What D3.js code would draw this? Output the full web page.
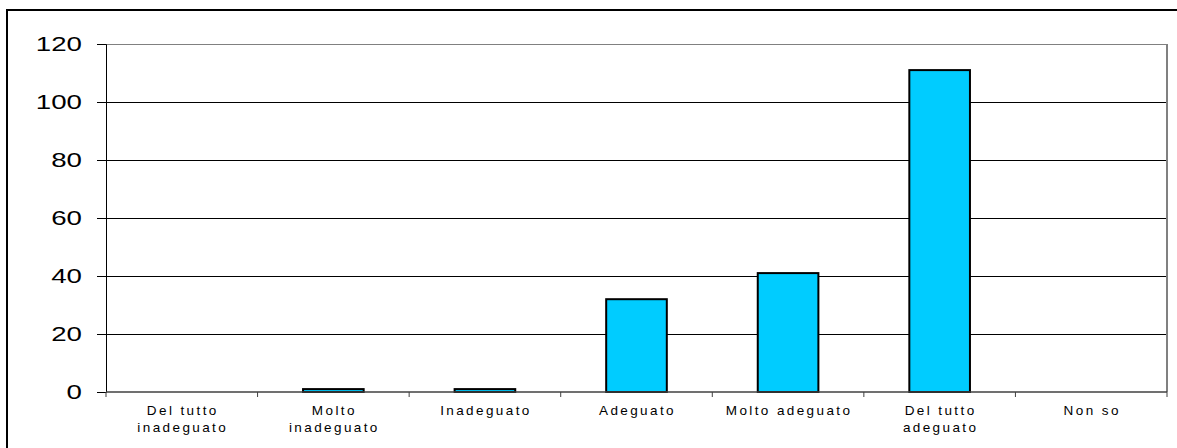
<!DOCTYPE html>
<html><head><meta charset="utf-8">
<script src="https://cdn.jsdelivr.net/npm/d3@7"></script>
<style>body{margin:0;background:#fff}svg{display:block}</style>
</head><body>
<svg id="c" width="1177" height="448"></svg>
<script>
const categories = [["Del tutto","inadeguato"],["Molto","inadeguato"],["Inadeguato"],["Adeguato"],["Molto adeguato"],["Del tutto","adeguato"],["Non so"]];
const values = [0, 1, 1, 32, 41, 111, 0];
const yTicks = [0, 20, 40, 60, 80, 100, 120];

const svg = d3.select("#c");
const L = 106, R = 1167, T = 44, B = 392;
svg.append("rect").attr("x", 7).attr("y", 10).attr("width", 1180).attr("height", 450)
  .attr("fill", "none").attr("stroke", "#000").attr("stroke-width", 2);

const keys = categories.map((c, i) => i);
const x = d3.scaleBand().domain(keys).range([L, R]).paddingInner(0).paddingOuter(0);
const y = d3.scaleLinear().domain([0, 120]).range([B, T]);

// gridlines
svg.append("g").selectAll("line").data(yTicks.filter(t => t > 0)).join("line")
  .attr("x1", L).attr("x2", R).attr("y1", d => y(d)).attr("y2", d => y(d))
  .attr("stroke", d => d === 120 ? "#808080" : "#000").attr("stroke-width", 1).attr("shape-rendering", "crispEdges");
// right border of plot
svg.append("line").attr("x1", R).attr("x2", R).attr("y1", T).attr("y2", B)
  .attr("stroke", "#808080").attr("stroke-width", 2);

// bars
const bw = x.bandwidth() / 2.5;
svg.append("g").selectAll("rect").data(values).join("rect")
  .attr("x", (d, i) => x(i) + (x.bandwidth() - bw) / 2)
  .attr("y", d => y(d)).attr("width", bw).attr("height", d => B - y(d))
  .attr("fill", "#00CCFF").attr("stroke", "#000").attr("stroke-width", 2)
  .attr("display", d => d > 0 ? null : "none");

// y axis
const ya = d3.axisLeft(y).tickValues(yTicks).tickSize(9).tickPadding(15).tickFormat(d3.format("d"));
const gy = svg.append("g").attr("transform", `translate(${L},0)`).call(ya);
gy.select(".domain").attr("stroke", "#000").attr("stroke-width", 1);
gy.selectAll(".tick line").attr("stroke", "#000");
gy.selectAll("text").attr("font-family", "Arial, 'Liberation Sans', sans-serif").attr("font-size", 19.5).attr("fill", "#000")
  .attr("x", 0).attr("transform", "translate(-24,0) scale(1.42,1)");

// x axis
const xa = d3.scaleLinear().domain([0, 7]).range([L, R]);
const gx = svg.append("g").attr("transform", `translate(0,${B})`);
gx.append("line").attr("x1", L).attr("x2", R).attr("stroke", "#404040").attr("stroke-width", 1.5);
gx.selectAll("line.t").data(d3.range(8)).join("line").attr("class", "t")
  .attr("x1", d => xa(d)).attr("x2", d => xa(d)).attr("y1", 0).attr("y2", 5).attr("stroke", "#404040");
const lbl = gx.selectAll("text").data(categories).join("text")
  .attr("text-anchor", "middle")
  .attr("font-family", "Arial, 'Liberation Sans', sans-serif").attr("font-size", 13.5)
  .attr("letter-spacing", 2.4).attr("fill", "#000");
lbl.each(function(d, i) {
  const t = d3.select(this);
  d.forEach((s, j) => t.append("tspan").attr("x", x(i) + x.bandwidth() / 2 + 1).attr("y", 23 + j * 17).text(s));
});
</script>
</body></html>
